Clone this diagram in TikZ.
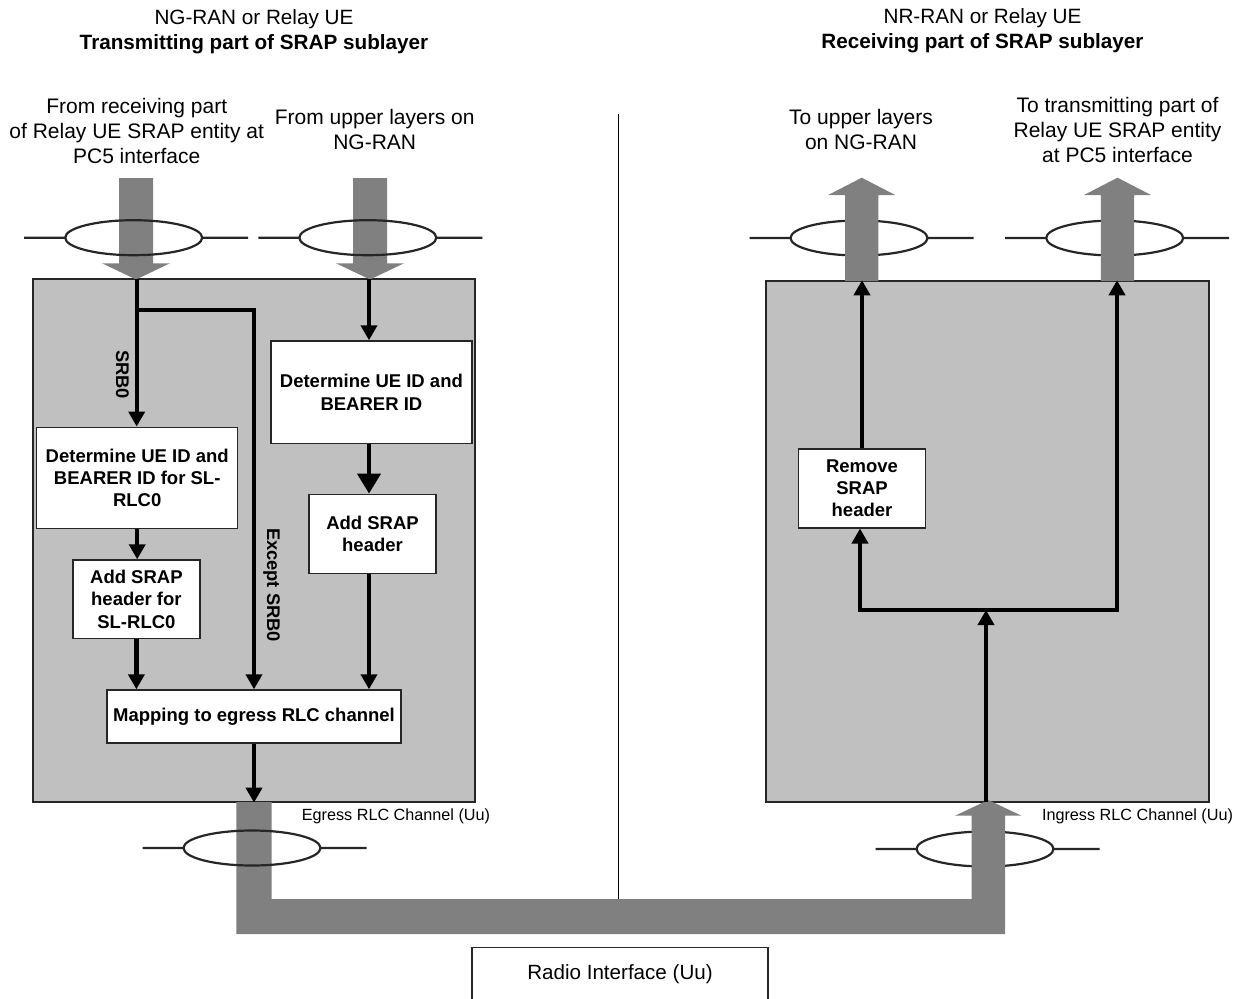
\documentclass[tikz,border=0pt]{standalone}
\usepackage{fontspec}
\setmainfont{Liberation Sans}
\usetikzlibrary{arrows.meta,calc}
\definecolor{boxgrey}{HTML}{C0C0C0}
\definecolor{pipegrey}{HTML}{808080}
% ring round a channel: two stubs and an ellipse
\def\ring(#1,#2){\draw[ringline] (#1-109.5,#2) -- (#1-68.5,#2) (#1+68.5,#2) -- (#1+114.5,#2) (#1,#2) ellipse (68.5 and 17.5);}
% wide grey arrows at the top of the panels
\def\pipedown(#1){\fill[pipegrey] (#1-17,178) -- (#1+17,178) -- (#1+17,263.3) -- (#1+34,263.3) -- (#1,279.5) -- (#1-34,263.3) -- (#1-17,263.3) -- cycle;}
\def\pipeup(#1){\fill[pipegrey] (#1-16.7,281) -- (#1+16.7,281) -- (#1+16.7,195) -- (#1+33.5,195) -- (#1,177.7) -- (#1-33.5,195) -- (#1-16.7,195) -- cycle;}
\tikzset{
  panel/.style={draw=black!85, fill=boxgrey, line width=1.3pt, inner sep=0pt},
  proc/.style={draw=black!85, fill=white, line width=1.5pt, inner sep=0pt, align=center,
    font=\fontsize{18.5}{22.3}\selectfont\bfseries},
  head/.style={align=center, font=\fontsize{20.7}{25}\selectfont},
  toplbl/.style={align=center, font=\fontsize{21}{25}\selectfont},
  sidelbl/.style={rotate=-90, font=\fontsize{18.3}{22}\selectfont\bfseries},
  chanlbl/.style={font=\fontsize{16.2}{19}\selectfont},
  ringline/.style={draw=black!85, line width=2.2pt},
  wire/.style={line width=4.3pt, line cap=rect},
  flow/.style={line width=4.3pt, -{Triangle[width=16pt,length=15pt]}},
  bigflow/.style={line width=4.3pt, -{Triangle[width=23pt,length=20pt]}}
}
\begin{document}
\begin{tikzpicture}[x=1pt,y=-1pt]
  \useasboundingbox (0,0) rectangle (1238,998);

  %%%%% HEADINGS %%%%%
  \node[head] (txhead) at (254,31.5) {NG-RAN or Relay UE\\\textbf{Transmitting part of SRAP sublayer}};
  \node[head] (rxhead) at (982.5,31) {NR-RAN or Relay UE\\\textbf{Receiving part of SRAP sublayer}};

  \node[toplbl] (fromrelay) at (136.7,131) {From receiving part\\of Relay UE SRAP entity at\\PC5 interface};
  \node[toplbl] (fromupper) at (374.7,129.5) {From upper layers on\\NG-RAN};
  \node[toplbl] (toupper) at (861,129.5) {To upper layers\\on NG-RAN};
  \node[toplbl] (torelay) at (1117.5,129.5) {To transmitting part of\\Relay UE SRAP entity\\at PC5 interface};

  %%%%% PANELS %%%%%
  \node[panel, minimum width=442pt, minimum height=523pt] (tx) at (254,540.5) {};
  \node[panel, minimum width=443pt, minimum height=521pt] (rx) at (987.5,541.4) {};

  \draw[line width=1.3pt] (618.3,114) -- (618.3,899);

  % left: rings over the pipes, right: pipes over the rings
  \pipedown(136)
  \pipedown(370)
  \ring(133.7,237.7)
  \ring(367.8,237.7)
  \ring(859,238)
  \ring(1114.7,238)
  \pipeup(861.7)
  \pipeup(1117.5)

  %%%%% RADIO LINK %%%%%
  \ring(985,849)
  \fill[pipegrey] (236.3,802) -- (271.6,802) -- (271.6,899) -- (971.7,899) -- (971.7,815.7)
    -- (955,815.7) -- (988.3,800) -- (1021.5,815.7) -- (1005,815.7) -- (1005,934) -- (236.3,934) -- cycle;
  \ring(252,848)

  \node[chanlbl] (egress) at (396,816.7) {Egress RLC Channel (Uu)};
  \node[chanlbl] (ingress) at (1137.5,816.7) {Ingress RLC Channel (Uu)};
  \node[draw=black!85, line width=1.3pt, anchor=north, minimum width=296pt, minimum height=53.3pt,
    font=\fontsize{20.6}{24}\selectfont] (radio) at (620,946.7) {Radio Interface (Uu)};

  %%%%% TRANSMITTING PART %%%%%
  \node[proc, minimum width=201pt, minimum height=101.4pt] (idA) at (137.2,478) {Determine UE ID and\\BEARER ID for SL-\\RLC0};
  \node[proc, minimum width=127.3pt, minimum height=78.3pt] (hdrA) at (136.4,599.2) {Add SRAP\\header for\\SL-RLC0};
  \node[proc, minimum width=201.3pt, minimum height=102.3pt] (idC) at (371.4,392.2) {Determine UE ID and\\BEARER ID};
  \node[proc, minimum width=127pt, minimum height=79pt] (hdrC) at (372.5,533.8) {Add SRAP\\header};
  \node[proc, minimum width=294pt, minimum height=52.7pt] (map) at (254,716.4) {Mapping to egress RLC channel};

  \node[sidelbl] (srb) at (122.3,374.5) {SRB0};
  \node[sidelbl] (except) at (271.7,585) {Except SRB0};

  \coordinate (inA) at (136.7,279.3);
  \coordinate (fork) at (136.7,310);
  \coordinate (inC) at (369,279.3);

  \draw[flow] (inA) -- (inA |- idA.north);
  \draw[flow] (fork) -| (map.north);
  \draw[flow] (idA.south) -- (idA.south |- hdrA.north);
  \draw[flow] (hdrA.south) -- (hdrA.south |- map.north);
  \draw[flow] (inC) -- (inC |- idC.north);
  \draw[bigflow] (inC |- idC.south) -- (inC |- hdrC.north);
  \draw[flow] (inC |- hdrC.south) -- (inC |- map.north);
  \draw[flow] (map.south) -- (map.south |- tx.south);

  %%%%% RECEIVING PART %%%%%
  \node[proc, minimum width=127.4pt, minimum height=78.7pt] (remove) at (862,488.4) {Remove\\SRAP\\header};

  \coordinate (inR) at (986,802);
  \coordinate (split) at (986,610);
  \coordinate (splitL) at (860,610);
  \coordinate (splitR) at (1117,610);

  \draw[flow] (inR) -- (split);
  \draw[wire] (splitL) -- (splitR);
  \draw[flow] (splitL) -- (splitL |- remove.south);
  \draw[flow] (remove.north) -- (remove.north |- rx.north);
  \draw[flow] (splitR) -- (splitR |- rx.north);
\end{tikzpicture}
\end{document}
